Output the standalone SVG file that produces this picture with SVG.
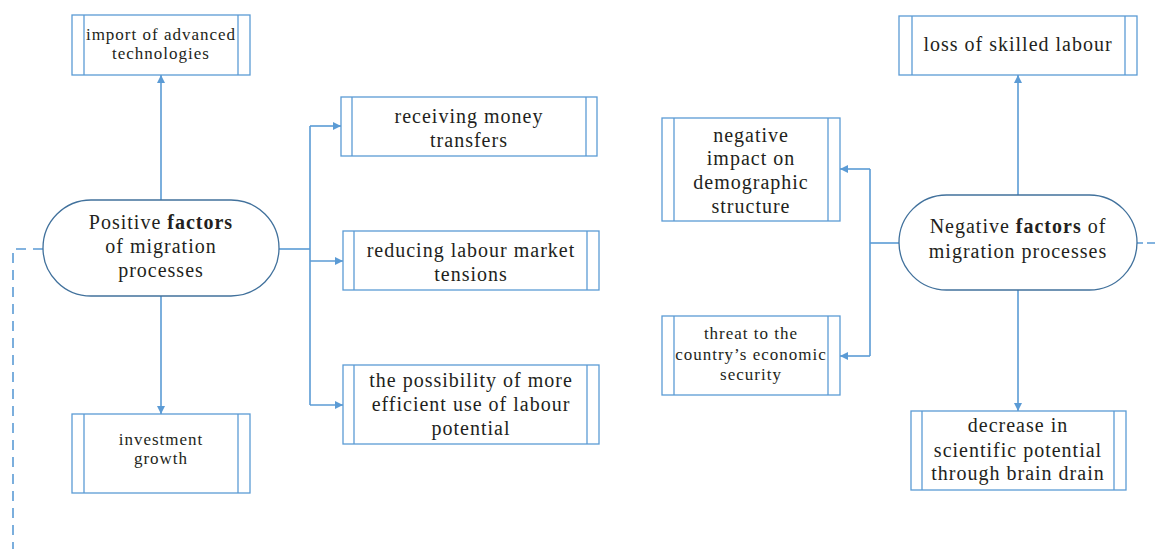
<svg xmlns="http://www.w3.org/2000/svg" width="1155" height="549" viewBox="0 0 1155 549">
<defs>
<marker id="ah" viewBox="0 0 10 10" refX="10" refY="5" markerWidth="8" markerHeight="8" markerUnits="userSpaceOnUse" orient="auto">
<path d="M0,0 L10,5 L0,10 Z" fill="#5b9bd5"/>
</marker>
<style>
.box{fill:#fff;stroke:#5b9bd5;stroke-width:1.3}
.in{stroke:#5b9bd5;stroke-width:1.3}
.ell{fill:#fff;stroke:#41719c;stroke-width:1.3}
.c{fill:none;stroke:#5b9bd5;stroke-width:1.6}
.d{fill:none;stroke:#5b9bd5;stroke-width:1.6;stroke-dasharray:10 7}
text{font-family:"Liberation Serif","Times New Roman",serif;fill:#231f20;text-anchor:middle;letter-spacing:1px}
.s{font-size:17px}
.m{font-size:20px}
</style>
</defs>
<rect width="1155" height="549" fill="#fff"/>
<g id="connectors">
<path class="c" d="M161,200 V75" marker-end="url(#ah)"/>
<path class="c" d="M161,296 V414" marker-end="url(#ah)"/>
<path class="c" d="M279,249 H310"/>
<path class="c" d="M310,126 V405"/>
<path class="c" d="M310,126 H341" marker-end="url(#ah)"/>
<path class="c" d="M310,261 H343" marker-end="url(#ah)"/>
<path class="c" d="M310,405 H343" marker-end="url(#ah)"/>
<path class="d" d="M43,249 H13 V549"/>
<path class="c" d="M1018,195 V75" marker-end="url(#ah)"/>
<path class="c" d="M1018,290 V411" marker-end="url(#ah)"/>
<path class="c" d="M899,243 H870"/>
<path class="c" d="M870,169 V356"/>
<path class="c" d="M870,169 H840" marker-end="url(#ah)"/>
<path class="c" d="M870,356 H840" marker-end="url(#ah)"/>
<path class="d" d="M1137,243 H1155" style="stroke-dasharray:6 4 10 7"/>
</g>
<g id="positive">
<rect class="ell" x="43" y="200" width="236" height="96" rx="48" ry="48"/>
<text class="m" x="161" y="229">Positive <tspan font-weight="bold">factors</tspan></text>
<text class="m" x="161" y="253">of migration</text>
<text class="m" x="161" y="277">processes</text>
</g>
<g id="import">
<rect class="box" x="72" y="15" width="178" height="60"/>
<line class="in" x1="84" y1="15" x2="84" y2="75"/><line class="in" x1="238" y1="15" x2="238" y2="75"/>
<text class="s" x="161" y="40">import of advanced</text>
<text class="s" x="161" y="59">technologies</text>
</g>
<g id="investment">
<rect class="box" x="72" y="414" width="178" height="79"/>
<line class="in" x1="84" y1="414" x2="84" y2="493"/><line class="in" x1="238" y1="414" x2="238" y2="493"/>
<text class="s" x="161" y="445">investment</text>
<text class="s" x="161" y="464">growth</text>
</g>
<g id="receiving">
<rect class="box" x="341" y="97" width="256" height="59"/>
<line class="in" x1="352" y1="97" x2="352" y2="156"/><line class="in" x1="586" y1="97" x2="586" y2="156"/>
<text class="m" x="469" y="123">receiving money</text>
<text class="m" x="469" y="147">transfers</text>
</g>
<g id="reducing">
<rect class="box" x="343" y="231" width="256" height="59"/>
<line class="in" x1="354" y1="231" x2="354" y2="290"/><line class="in" x1="587" y1="231" x2="587" y2="290"/>
<text class="m" x="471" y="257">reducing labour market</text>
<text class="m" x="471" y="281">tensions</text>
</g>
<g id="possibility">
<rect class="box" x="343" y="365" width="256" height="79"/>
<line class="in" x1="354" y1="365" x2="354" y2="444"/><line class="in" x1="587" y1="365" x2="587" y2="444"/>
<text class="m" x="471" y="387">the possibility of more</text>
<text class="m" x="471" y="411">efficient use of labour</text>
<text class="m" x="471" y="435">potential</text>
</g>
<g id="negative-impact">
<rect class="box" x="662" y="118" width="178" height="103"/>
<line class="in" x1="674" y1="118" x2="674" y2="221"/><line class="in" x1="828" y1="118" x2="828" y2="221"/>
<text class="m" x="751" y="142">negative</text>
<text class="m" x="751" y="165">impact on</text>
<text class="m" x="751" y="189">demographic</text>
<text class="m" x="751" y="213">structure</text>
</g>
<g id="threat">
<rect class="box" x="662" y="316" width="178" height="79"/>
<line class="in" x1="674" y1="316" x2="674" y2="395"/><line class="in" x1="828" y1="316" x2="828" y2="395"/>
<text class="s" x="751" y="339">threat to the</text>
<text class="s" x="751" y="360" letter-spacing="0.7">country’s economic</text>
<text class="s" x="751" y="380">security</text>
</g>
<g id="negative">
<rect class="ell" x="899" y="195" width="238" height="95" rx="47.5" ry="47.5"/>
<text class="m" x="1018" y="233">Negative <tspan font-weight="bold">factors</tspan> of</text>
<text class="m" x="1018" y="258">migration processes</text>
</g>
<g id="loss">
<rect class="box" x="899" y="16" width="238" height="59"/>
<line class="in" x1="912" y1="16" x2="912" y2="75"/><line class="in" x1="1125" y1="16" x2="1125" y2="75"/>
<text class="m" x="1018" y="51">loss of skilled labour</text>
</g>
<g id="decrease">
<rect class="box" x="911" y="411" width="215" height="79"/>
<line class="in" x1="922" y1="411" x2="922" y2="490"/><line class="in" x1="1114" y1="411" x2="1114" y2="490"/>
<text class="m" x="1018" y="432">decrease in</text>
<text class="m" x="1018" y="457">scientific potential</text>
<text class="m" x="1018" y="480">through brain drain</text>
</g>
</svg>
